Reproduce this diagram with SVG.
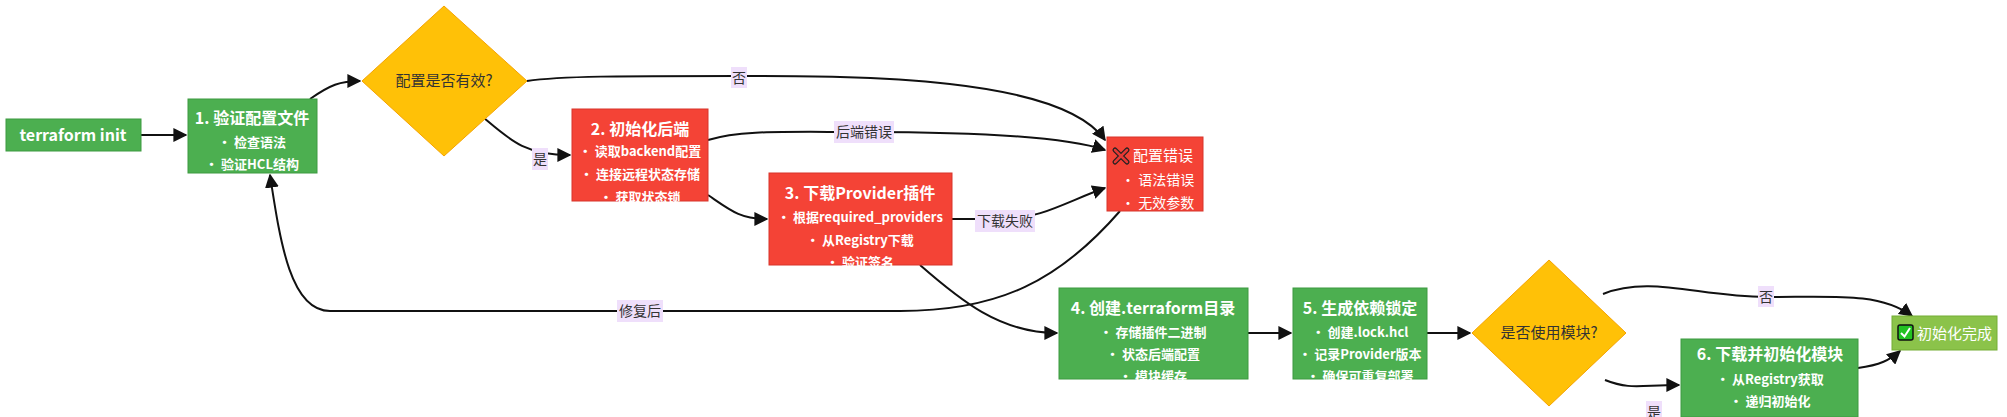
<svg xmlns="http://www.w3.org/2000/svg" width="2007" height="417" viewBox="0 0 2007 417">
<style>
text{font-family:"Noto Sans CJK SC","Noto Sans",sans-serif;}
.g{fill:#4caf50;stroke:#3d9a41;stroke-width:1}
.r{fill:#f44336;stroke:#d8352a;stroke-width:1}
.y{fill:#ffc107;stroke:#f5a300;stroke-width:1}
.f{fill:#8bc34a;stroke:#74ad35;stroke-width:1}
.t{fill:#fff;font-weight:bold;font-size:16px;text-anchor:middle}
.b{fill:#fff;font-weight:bold;font-size:13px;text-anchor:middle}
.d{fill:#333;font-size:15px;text-anchor:middle}
.c{fill:none;stroke:#111;stroke-width:2}
.lb{fill:#efdffb}
.lt{fill:#333;font-size:14px;text-anchor:middle}
</style>
<defs><marker id="a" viewBox="0 0 10 10" refX="9" refY="5" markerWidth="7" markerHeight="7" orient="auto"><path d="M0,0L10,5L0,10z" fill="#111"/></marker></defs>
<g id="connectors">
<path class="c" marker-end="url(#a)" d="M141,135H186"/>
<path class="c" marker-end="url(#a)" d="M310,99C330,85 340,81 360,81"/>
<path class="c" marker-end="url(#a)" d="M484,118C510,140 525,155 570,155"/>
<path class="c" marker-end="url(#a)" d="M527,81C560,76 620,76 739,76S1060,76 1105,140"/>
<path class="c" marker-end="url(#a)" d="M708,140C740,130 780,132 864,132S1060,135 1105,150"/>
<path class="c" marker-end="url(#a)" d="M708,195C730,210 740,219 767,219"/>
<path class="c" marker-end="url(#a)" d="M952,219H1005C1040,219 1070,200 1105,188"/>
<path class="c" marker-end="url(#a)" d="M1120,211C1060,280 1000,311 900,311H330C290,311 280,240 270,175"/>
<path class="c" marker-end="url(#a)" d="M920,265C960,300 1000,333 1057,333"/>
<path class="c" marker-end="url(#a)" d="M1248,333H1291"/>
<path class="c" marker-end="url(#a)" d="M1427,333H1470"/>
<path class="c" marker-end="url(#a)" d="M1603,294C1650,275 1700,297 1766,297S1880,292 1912,316"/>
<path class="c" marker-end="url(#a)" d="M1605,380C1630,390 1640,385 1679,385"/>
<path class="c" marker-end="url(#a)" d="M1858,368C1880,365 1890,360 1900,351"/>
<rect class="lb" x="731" y="67" width="16" height="21"/><text class="lt" x="739" y="83">否</text>
<rect class="lb" x="532" y="148" width="16" height="22"/><text class="lt" x="540" y="164">是</text>
<rect class="lb" x="834" y="121" width="60" height="22"/><text class="lt" x="864" y="137">后端错误</text>
<rect class="lb" x="975" y="210" width="60" height="22"/><text class="lt" x="1005" y="226">下载失败</text>
<rect class="lb" x="617" y="300" width="46" height="22"/><text class="lt" x="640" y="316">修复后</text>
<rect class="lb" x="1758" y="286" width="16" height="21"/><text class="lt" x="1766" y="302">否</text>
<rect class="lb" x="1646" y="401" width="16" height="22"/><text class="lt" x="1654" y="417">是</text>
</g>
<g id="init"><rect class="g" x="6" y="119" width="135" height="32"/><text class="t" x="73" y="141">terraform init</text></g>
<g id="n1"><rect class="g" x="188" y="99" width="129" height="74"/><text class="t" x="252" y="124">1. 验证配置文件</text><text class="b" x="252" y="147">• 检查语法</text><text class="b" x="252" y="169">• 验证HCL结构</text></g>
<g id="d1"><path class="y" d="M444,6L527,81L444,156L362,81z"/><text class="d" x="444" y="86">配置是否有效?</text></g>
<g id="n2"><rect class="r" x="572" y="109" width="136" height="92"/><text class="t" x="640" y="135">2. 初始化后端</text><text class="b" x="640" y="156">• 读取backend配置</text><text class="b" x="640" y="179">• 连接远程状态存储</text><text class="b" x="640" y="202">• 获取状态锁</text></g>
<g id="n3"><rect class="r" x="769" y="173" width="183" height="92"/><text class="t" x="860" y="199">3. 下载Provider插件</text><text class="b" x="860" y="222">• 根据required_providers</text><text class="b" x="860" y="245">• 从Registry下载</text><text class="b" x="860" y="267">• 验证签名</text></g>
<g id="err"><rect class="r" x="1107" y="137" width="96" height="74"/>
<path d="M1115,150L1127,162M1127,150L1115,162" stroke="#222" stroke-width="5" stroke-linecap="round"/>
<path d="M1115,150L1127,162M1127,150L1115,162" stroke="#e53935" stroke-width="2.5" stroke-linecap="round"/>
<text x="1133" y="161" font-size="15" fill="#fff">配置错误</text><text x="1121" y="185" font-size="14" fill="#fff">• 语法错误</text><text x="1121" y="208" font-size="14" fill="#fff">• 无效参数</text></g>
<g id="n4"><rect class="g" x="1059" y="288" width="189" height="91"/><text class="t" x="1153" y="314">4. 创建.terraform目录</text><text class="b" x="1153" y="337">• 存储插件二进制</text><text class="b" x="1153" y="359">• 状态后端配置</text><text class="b" x="1153" y="381">• 模块缓存</text></g>
<g id="n5"><rect class="g" x="1293" y="288" width="134" height="91"/><text class="t" x="1360" y="314">5. 生成依赖锁定</text><text class="b" x="1360" y="337">• 创建.lock.hcl</text><text class="b" x="1360" y="359">• 记录Provider版本</text><text class="b" x="1360" y="381">• 确保可重复部署</text></g>
<g id="d2"><path class="y" d="M1549,260L1626,333L1549,406L1472,333z"/><text class="d" x="1549" y="338">是否使用模块?</text></g>
<g id="n6"><rect class="g" x="1681" y="339" width="177" height="78"/><text class="t" x="1770" y="360">6. 下载并初始化模块</text><text class="b" x="1770" y="384">• 从Registry获取</text><text class="b" x="1770" y="406">• 递归初始化</text></g>
<g id="done"><rect class="f" x="1892" y="316" width="105" height="34"/>
<rect x="1898" y="325" width="15" height="15" rx="2" fill="#22c222" stroke="#111" stroke-width="1.5"/>
<path d="M1901,333L1904.5,336.5L1910,328" fill="none" stroke="#fff" stroke-width="2"/>
<text x="1917" y="339" font-size="15" fill="#fff">初始化完成</text></g>
</svg>
